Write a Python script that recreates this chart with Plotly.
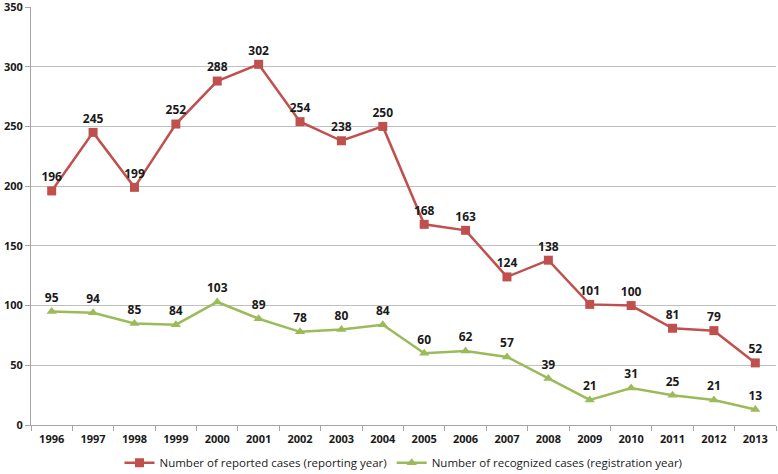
import plotly.graph_objects as go

years = [str(y) for y in range(1996, 2014)]
reported = [196, 245, 199, 252, 288, 302, 254, 238, 250, 168, 163, 124, 138, 101, 100, 81, 79, 52]
recognized = [95, 94, 85, 84, 103, 89, 78, 80, 84, 60, 62, 57, 39, 21, 31, 25, 21, 13]
y_ticks = [0, 50, 100, 150, 200, 250, 300, 350]

font_fam = "Open Sans, Lato, sans-serif"

fig = go.Figure()
fig.add_trace(go.Scatter(
    x=years, y=reported, mode="lines+markers+text",
    name="Number of reported cases (reporting year)",
    line=dict(color="#C0504D", width=2.5),
    marker=dict(symbol="square", size=9, color="#C0504D"),
    text=[str(v) for v in reported], textposition="top center",
    textfont=dict(family=font_fam, size=12, color="#1a1a1a", weight="bold"),
    cliponaxis=False,
))
fig.add_trace(go.Scatter(
    x=years, y=recognized, mode="lines+markers+text",
    name="Number of recognized cases (registration year)",
    line=dict(color="#9BBB59", width=2.5),
    marker=dict(symbol="triangle-up", size=9, color="#9BBB59"),
    text=[str(v) for v in recognized], textposition="top center",
    textfont=dict(family=font_fam, size=12, color="#1a1a1a", weight="bold"),
    cliponaxis=False,
))

fig.update_layout(
    width=778, height=474,
    margin=dict(l=31, r=2, t=7, b=49, autoexpand=False),
    plot_bgcolor="white", paper_bgcolor="white",
    font=dict(family=font_fam, size=11, color="#1a1a1a"),
    legend=dict(orientation="h", x=0.5, xanchor="center", y=-0.0905, yanchor="middle",
                font=dict(size=11.5, color="#1a1a1a"), traceorder="normal"),
    showlegend=True,
)
fig.update_xaxes(
    type="category", range=[-0.5, len(years) - 0.5],
    showgrid=False, showline=True, linecolor="#A6A6A6", linewidth=1,
    ticks="outside", tickson="boundaries", ticklen=5, tickcolor="#A6A6A6",
    tickfont=dict(size=11, weight="bold"), automargin=False, ticklabelstandoff=4,
)
fig.update_yaxes(
    range=[0, 350], tickvals=y_ticks, showgrid=True, gridcolor="#BFBFBF", gridwidth=1,
    showline=True, linecolor="#A6A6A6", linewidth=1, ticks="outside", ticklen=5,
    tickcolor="#A6A6A6", tickfont=dict(size=11, weight="bold"), zeroline=False,
    automargin=False, ticklabeloverflow="allow",
)

fig.write_html("out.html", config={"displayModeBar": False},
               post_script="document.body.style.margin='0';")
